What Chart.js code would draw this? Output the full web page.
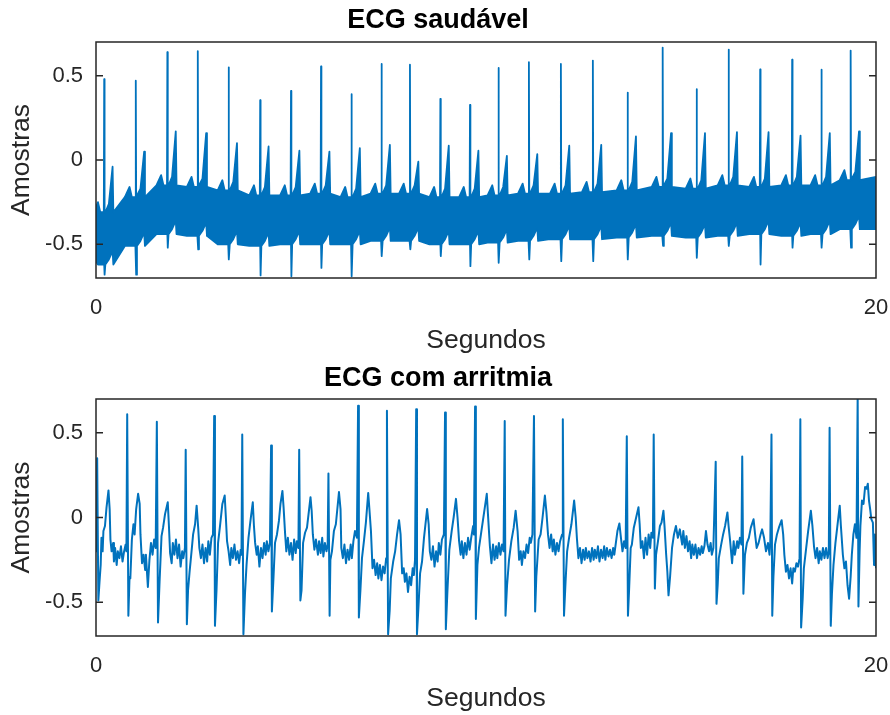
<!DOCTYPE html>
<html>
<head>
<meta charset="utf-8">
<script src="https://cdn.jsdelivr.net/npm/chart.js@4.4.0/dist/chart.umd.min.js"></script>
<style>
  body { margin: 0; background: #fff; }
  #wrap { position: relative; width: 890px; height: 715px; }
  #top-chart { position: absolute; left: 0; top: 0; }
  #bottom-chart { position: absolute; left: 0; top: 357px; }
</style>
</head>
<body>
<div id="wrap">
  <canvas id="top-chart" width="890" height="357"></canvas>
  <canvas id="bottom-chart" width="890" height="358"></canvas>
</div>
<script>
// axes
const xTicks = [0, 20];
const yTicks = [-0.5, 0, 0.5];

// "ECG saudável": one entry per beat
const hBeatTime = [0.21, 1.02, 1.83, 2.61, 3.40, 4.21, 5.00, 5.77, 6.55, 7.32, 8.05, 8.83, 9.59,
  10.32, 11.10, 11.92, 12.74, 13.63, 14.53, 15.40, 16.22, 17.03, 17.85, 18.60, 19.35];
const hRPeak = [0.48, 0.47, 0.64, 0.645, 0.55, 0.355, 0.41, 0.555, 0.39, 0.57, 0.565, 0.363, 0.327,
  0.546, 0.58, 0.57, 0.59, 0.40, 0.667, 0.42, 0.655, 0.537, 0.595, 0.536, 0.649];
const hSTrough = [-0.68, -0.68, -0.52, -0.53, -0.59, -0.685, -0.69, -0.64, -0.69, -0.57, -0.53, -0.57, -0.63,
  -0.61, -0.59, -0.60, -0.60, -0.59, -0.51, -0.58, -0.51, -0.62, -0.52, -0.52, -0.52];
const hTWave = [-0.04, 0.05, 0.17, 0.16, 0.10, 0.08, 0.055, 0.05, 0.07, 0.09, -0.01, 0.085, 0.055,
  0.025, 0.035, 0.085, 0.09, 0.14, 0.16, 0.16, 0.165, 0.165, 0.145, 0.16, 0.17];
// noisy band (upper / lower edge) around each beat
const hBandTop = [-0.31, -0.22, -0.15, -0.16, -0.18, -0.21, -0.21, -0.20, -0.22, -0.20, -0.20, -0.22, -0.22,
  -0.21, -0.20, -0.20, -0.19, -0.18, -0.16, -0.17, -0.15, -0.16, -0.15, -0.15, -0.12];
const hBandBottom = [-0.62, -0.51, -0.44, -0.45, -0.50, -0.51, -0.50, -0.50, -0.50, -0.48, -0.48, -0.50, -0.50,
  -0.49, -0.48, -0.47, -0.47, -0.46, -0.45, -0.46, -0.45, -0.44, -0.45, -0.44, -0.41];
const hStartBand = [-0.28, -0.60];
const hEndBand = [-0.10, -0.41];

// "ECG com arritmia": samples
const arrTime = [
  0.00, 0.01, 0.03, 0.06, 0.09, 0.12, 0.14, 0.17, 0.19, 0.23,
  0.27, 0.32, 0.35, 0.37, 0.40, 0.44, 0.46, 0.49, 0.53, 0.56,
  0.60, 0.64, 0.68, 0.72, 0.76, 0.78, 0.80, 0.83, 0.86, 0.88,
  0.92, 0.96, 0.99, 1.03, 1.08, 1.12, 1.14, 1.18, 1.22, 1.26,
  1.28, 1.33, 1.37, 1.41, 1.45, 1.49, 1.53, 1.56, 1.59, 1.63,
  1.68, 1.72, 1.77, 1.84, 1.87, 1.90, 1.94, 1.97, 2.01, 2.05,
  2.09, 2.13, 2.17, 2.21, 2.24, 2.28, 2.30, 2.33, 2.36, 2.40,
  2.45, 2.49, 2.54, 2.58, 2.62, 2.65, 2.69, 2.73, 2.77, 2.81,
  2.85, 2.88, 2.92, 2.96, 3.00, 3.03, 3.05, 3.09, 3.13, 3.18,
  3.24, 3.30, 3.33, 3.36, 3.40, 3.44, 3.47, 3.51, 3.55, 3.59,
  3.63, 3.67, 3.71, 3.73, 3.75, 3.78, 3.82, 3.86, 3.91, 3.96,
  4.02, 4.05, 4.08, 4.12, 4.15, 4.19, 4.23, 4.27, 4.31, 4.35,
  4.38, 4.42, 4.46, 4.49, 4.51, 4.55, 4.59, 4.64, 4.69, 4.73,
  4.78, 4.81, 4.85, 4.88, 4.92, 4.96, 5.00, 5.04, 5.08, 5.12,
  5.15, 5.19, 5.21, 5.24, 5.27, 5.31, 5.36, 5.41, 5.45, 5.50,
  5.53, 5.56, 5.60, 5.64, 5.69, 5.72, 5.76, 5.80, 5.83, 5.87,
  5.91, 5.94, 5.96, 5.99, 6.01, 6.05, 6.10, 6.15, 6.23, 6.27,
  6.29, 6.33, 6.37, 6.41, 6.45, 6.49, 6.53, 6.56, 6.60, 6.64,
  6.69, 6.72, 6.74, 6.78, 6.82, 6.87, 6.92, 6.98, 7.01, 7.05,
  7.09, 7.13, 7.17, 7.21, 7.24, 7.28, 7.32, 7.36, 7.40, 7.44,
  7.46, 7.49, 7.53, 7.56, 7.62, 7.67, 7.72, 7.77, 7.81, 7.85,
  7.89, 7.92, 7.96, 8.00, 8.04, 8.08, 8.12, 8.15, 8.18, 8.21,
  8.23, 8.27, 8.31, 8.36, 8.41, 8.49, 8.53, 8.56, 8.60, 8.64,
  8.68, 8.72, 8.76, 8.79, 8.83, 8.87, 8.92, 8.95, 8.97, 9.01,
  9.06, 9.12, 9.17, 9.23, 9.27, 9.31, 9.35, 9.38, 9.42, 9.46,
  9.50, 9.54, 9.58, 9.62, 9.67, 9.69, 9.72, 9.74, 9.78, 9.82,
  9.87, 9.92, 10.02, 10.05, 10.10, 10.14, 10.18, 10.22, 10.26, 10.29,
  10.33, 10.37, 10.41, 10.45, 10.48, 10.50, 10.54, 10.59, 10.65, 10.71,
  10.76, 10.81, 10.85, 10.89, 10.92, 10.96, 11.00, 11.04, 11.08, 11.12,
  11.15, 11.19, 11.23, 11.26, 11.29, 11.35, 11.40, 11.45, 11.51, 11.55,
  11.59, 11.63, 11.67, 11.71, 11.74, 11.78, 11.82, 11.86, 11.90, 11.95,
  11.97, 12.00, 12.04, 12.08, 12.13, 12.19, 12.26, 12.30, 12.33, 12.37,
  12.41, 12.45, 12.49, 12.53, 12.56, 12.60, 12.64, 12.68, 12.72, 12.76,
  12.79, 12.83, 12.87, 12.91, 12.95, 12.99, 13.03, 13.06, 13.10, 13.14,
  13.18, 13.22, 13.26, 13.29, 13.33, 13.37, 13.42, 13.46, 13.50, 13.54,
  13.58, 13.61, 13.64, 13.67, 13.71, 13.74, 13.79, 13.85, 13.91, 13.94,
  13.97, 14.01, 14.05, 14.09, 14.13, 14.17, 14.21, 14.24, 14.28, 14.30,
  14.33, 14.36, 14.41, 14.46, 14.50, 14.55, 14.58, 14.62, 14.65, 14.68,
  14.72, 14.77, 14.82, 14.87, 14.92, 14.97, 15.03, 15.06, 15.10, 15.14,
  15.18, 15.22, 15.26, 15.29, 15.33, 15.37, 15.41, 15.45, 15.49, 15.53,
  15.56, 15.60, 15.64, 15.68, 15.72, 15.76, 15.79, 15.83, 15.89, 15.91,
  15.94, 15.97, 16.03, 16.08, 16.13, 16.19, 16.22, 16.26, 16.31, 16.35,
  16.38, 16.44, 16.47, 16.51, 16.55, 16.57, 16.60, 16.64, 16.69, 16.74,
  16.79, 16.86, 16.90, 16.94, 16.99, 17.04, 17.08, 17.13, 17.18, 17.23,
  17.27, 17.29, 17.32, 17.34, 17.37, 17.41, 17.46, 17.51, 17.58, 17.62,
  17.65, 17.69, 17.73, 17.77, 17.81, 17.85, 17.88, 17.92, 17.96, 18.00,
  18.04, 18.06, 18.08, 18.12, 18.15, 18.21, 18.26, 18.33, 18.37, 18.41,
  18.45, 18.49, 18.53, 18.56, 18.60, 18.64, 18.68, 18.72, 18.76, 18.79,
  18.81, 18.84, 18.87, 18.91, 18.96, 19.01, 19.07, 19.10, 19.15, 19.19,
  19.23, 19.27, 19.31, 19.35, 19.38, 19.42, 19.46, 19.50, 19.53, 19.55,
  19.58, 19.60, 19.64, 19.68, 19.72, 19.76, 19.79, 19.82, 19.85, 19.88,
  19.92, 19.95, 19.97, 20.00
];
const arrAmp = [
  -0.13, -0.20, 0.35, -0.49, -0.38, -0.28, -0.12, -0.20, -0.08, -0.05,
  0.06, 0.16, 0.05, -0.13, -0.20, -0.15, -0.26, -0.18, -0.28, -0.20,
  -0.24, -0.17, -0.26, -0.20, -0.16, -0.20, 0.61, -0.58, -0.35, -0.36,
  -0.13, -0.04, -0.10, 0.05, 0.14, 0.08, -0.10, -0.27, -0.22, -0.31,
  -0.22, -0.41, -0.25, -0.15, -0.22, -0.13, -0.18, 0.565, -0.62, -0.38,
  -0.11, -0.06, 0.02, 0.09, -0.05, -0.21, -0.27, -0.15, -0.22, -0.13,
  -0.24, -0.16, -0.29, -0.20, -0.24, -0.18, 0.40, -0.63, -0.43, -0.32,
  -0.20, -0.10, -0.04, 0.07, -0.06, -0.18, -0.24, -0.16, -0.27, -0.18,
  -0.26, -0.14, -0.22, -0.12, -0.10, 0.60, -0.64, -0.43, -0.15, -0.05,
  0.08, 0.13, 0.00, -0.14, -0.20, -0.28, -0.18, -0.24, -0.16, -0.25,
  -0.20, -0.27, -0.19, -0.22, 0.49, -0.69, -0.45, -0.28, -0.12, -0.02,
  0.09, -0.05, -0.15, -0.22, -0.17, -0.29, -0.18, -0.24, -0.15, -0.22,
  -0.14, -0.20, -0.15, 0.425, -0.555, -0.36, -0.15, -0.10, -0.02, 0.08,
  0.157, 0.06, -0.10, -0.20, -0.12, -0.22, -0.15, -0.25, -0.13, -0.21,
  -0.14, -0.18, 0.40, -0.49, -0.43, -0.15, -0.09, -0.06, 0.02, 0.12,
  0.04, -0.10, -0.19, -0.13, -0.22, -0.14, -0.21, -0.12, -0.23, -0.15,
  -0.20, -0.16, 0.26, -0.58, -0.25, -0.20, -0.08, -0.04, 0.15, 0.05,
  -0.18, -0.24, -0.16, -0.27, -0.19, -0.25, -0.16, -0.24, -0.14, -0.08,
  -0.12, 0.66, -0.59, -0.43, -0.24, -0.14, -0.03, 0.145, 0.05, -0.08,
  -0.30, -0.25, -0.34, -0.27, -0.36, -0.28, -0.37, -0.29, -0.33, -0.24,
  0.63, -0.69, -0.55, -0.36, -0.26, -0.20, -0.10, -0.016, -0.10, -0.33,
  -0.30, -0.38, -0.33, -0.44, -0.35, -0.40, -0.30, -0.34, -0.25, 0.64,
  -0.69, -0.52, -0.33, -0.26, -0.12, 0.05, -0.04, -0.20, -0.25, -0.17,
  -0.29, -0.20, -0.26, -0.15, -0.22, -0.13, -0.10, 0.62, -0.66, -0.44,
  -0.19, -0.08, 0.00, 0.11, 0.00, -0.14, -0.22, -0.14, -0.24, -0.15,
  -0.22, -0.12, -0.19, -0.12, -0.05, -0.10, 0.655, -0.60, -0.28, -0.18,
  -0.10, -0.02, 0.14, 0.02, -0.17, -0.27, -0.16, -0.25, -0.17, -0.24,
  -0.15, -0.22, -0.16, -0.20, 0.57, -0.58, -0.40, -0.25, -0.14, -0.06,
  0.04, -0.08, -0.25, -0.20, -0.28, -0.20, -0.24, -0.16, -0.21, -0.12,
  -0.15, -0.10, 0.60, -0.555, -0.35, -0.13, -0.10, 0.00, 0.13, 0.03,
  -0.10, -0.18, -0.10, -0.20, -0.13, -0.22, -0.15, -0.20, -0.14, -0.10,
  0.58, -0.58, -0.38, -0.20, -0.12, -0.04, 0.10, 0.00, -0.12, -0.24,
  -0.18, -0.27, -0.19, -0.25, -0.18, -0.24, -0.20, -0.26, -0.18, -0.25,
  -0.19, -0.24, -0.17, -0.26, -0.19, -0.24, -0.17, -0.25, -0.18, -0.23,
  -0.19, -0.24, -0.18, -0.22, -0.15, -0.08, -0.035, -0.12, -0.20, -0.14,
  -0.18, 0.48, -0.58, -0.42, -0.18, -0.16, -0.06, 0.00, 0.06, -0.04,
  -0.18, -0.14, -0.24, -0.12, -0.22, -0.10, -0.18, -0.09, -0.12, 0.49,
  -0.42, -0.22, -0.14, -0.05, -0.03, 0.04, -0.06, -0.22, -0.32, -0.46,
  -0.35, -0.18, -0.10, -0.05, -0.12, -0.07, -0.16, -0.08, -0.18, -0.11,
  -0.20, -0.14, -0.24, -0.16, -0.22, -0.16, -0.24, -0.18, -0.22, -0.17,
  -0.21, -0.17, -0.08, -0.16, -0.20, -0.15, -0.22, -0.18, 0.33, -0.51,
  -0.40, -0.24, -0.16, -0.10, -0.05, 0.03, -0.05, -0.14, -0.27, -0.14,
  -0.22, -0.14, -0.18, -0.12, -0.16, 0.36, -0.45, -0.22, -0.15, -0.12,
  -0.06, -0.01, -0.10, -0.18, -0.15, -0.10, -0.07, -0.12, -0.20, -0.15,
  -0.22, -0.14, 0.49, -0.58, -0.35, -0.16, -0.10, -0.06, -0.016, -0.10,
  -0.22, -0.32, -0.28, -0.36, -0.30, -0.39, -0.30, -0.32, -0.27, -0.29,
  -0.24, 0.58, -0.65, -0.48, -0.30, -0.18, -0.08, 0.04, -0.05, -0.17,
  -0.24, -0.18, -0.27, -0.20, -0.25, -0.18, -0.24, -0.18, -0.24, -0.20,
  0.53, -0.64, -0.45, -0.28, -0.15, -0.05, 0.07, -0.05, -0.22, -0.30,
  -0.26, -0.40, -0.48, -0.35, -0.22, -0.10, -0.04, -0.12, 0.72, -0.525,
  -0.20, -0.05, 0.10, 0.08, 0.18, 0.17, 0.20, 0.10, 0.05, -0.01,
  -0.03, -0.28, -0.10, -0.30
];

const lineColor = "#0072BD";
const axisColor = "#262626";
const fontFamily = "'Liberation Sans', Arial, sans-serif";

// Upper / lower edge of the healthy trace, one small set of points per beat
function buildHealthyBand() {
  const high = [{ x: 0, y: hStartBand[0] }];
  const low = [{ x: 0, y: hStartBand[1] }];
  hBeatTime.forEach(function (r, i) {
    const top = hBandTop[i];
    const bot = hBandBottom[i];
    const pts = [
      [r - 0.28, top, bot],
      [r - 0.16, top + 0.06, bot],
      [r - 0.10, top, bot],
      [r - 0.01, top, bot],
      [r, hRPeak[i], bot],
      [r + 0.01, top, hSTrough[i]],
      [r + 0.03, top, bot],
      [r + 0.12, top + 0.05, bot + 0.03],
      [r + 0.215, hTWave[i], bot + 0.08],
      [r + 0.235, top, bot],
    ];
    pts.forEach(function (p) {
      if (p[0] <= 0) return;
      high.push({ x: p[0], y: p[1] });
      low.push({ x: p[0], y: p[2] });
    });
  });
  high.push({ x: 20, y: hEndBand[0] });
  low.push({ x: 20, y: hEndBand[1] });
  return { high: high, low: low };
}

// axes box with inward tick marks, like the original figure
const boxPlugin = {
  id: "box",
  afterDatasetsDraw(chart) {
    const ctx = chart.ctx;
    const a = chart.chartArea;
    const y = chart.scales.y;
    ctx.save();
    ctx.strokeStyle = axisColor;
    ctx.lineWidth = 1.5;
    ctx.strokeRect(a.left, a.top, a.right - a.left, a.bottom - a.top);
    y.ticks.forEach(function (t) {
      const py = y.getPixelForValue(t.value);
      ctx.beginPath();
      ctx.moveTo(a.left, py);
      ctx.lineTo(a.left + 7, py);
      ctx.moveTo(a.right, py);
      ctx.lineTo(a.right - 7, py);
      ctx.stroke();
    });
    ctx.restore();
  },
};

function makeChart(canvasId, title, datasets, titlePadding) {
  const tickFont = { family: fontFamily, size: 22 };
  const labelFont = { family: fontFamily, size: 26.5 };
  return new Chart(document.getElementById(canvasId), {
    type: "line",
    data: { datasets: datasets },
    options: {
      responsive: false,
      animation: false,
      events: [],
      layout: { padding: { left: 0, right: 14, top: 0, bottom: 0 } },
      elements: { point: { radius: 0 }, line: { tension: 0 } },
      plugins: {
        legend: { display: false },
        tooltip: { enabled: false },
        title: {
          display: true,
          text: title,
          color: "#000",
          font: { family: fontFamily, size: 27, weight: "bold" },
          padding: titlePadding,
        },
      },
      scales: {
        x: {
          type: "linear",
          min: 0,
          max: 20,
          grid: { display: false, drawTicks: false },
          border: { display: false },
          afterBuildTicks: function (s) {
            s.ticks = xTicks.map(function (v) { return { value: v }; });
          },
          afterFit: function (s) {
            s.height = 79;
            s.paddingLeft = 0;
            s.paddingRight = 0;
          },
          ticks: { color: axisColor, font: tickFont, padding: 17, maxRotation: 0, callback: (v) => String(v) },
          title: { display: true, text: "Segundos", color: axisColor, font: labelFont, padding: { top: 0, bottom: 0 } },
        },
        y: {
          type: "linear",
          min: -0.7,
          max: 0.7,
          grid: { display: false, drawTicks: false },
          border: { display: false },
          afterBuildTicks: function (s) {
            s.ticks = yTicks.map(function (v) { return { value: v }; });
          },
          afterFit: function (s) {
            s.width = 96;
            s.paddingTop = 0;
            s.paddingBottom = 0;
          },
          ticks: { color: axisColor, font: tickFont, padding: 13, callback: (v) => String(v) },
          title: { display: true, text: "Amostras", color: axisColor, font: labelFont, padding: { top: 6, bottom: 0 } },
        },
      },
    },
    plugins: [boxPlugin],
  });
}

const band = buildHealthyBand();
makeChart("top-chart", "ECG saudável", [
  {
    data: band.high,
    borderColor: lineColor,
    backgroundColor: lineColor,
    borderWidth: 1.8,
    borderJoinStyle: "round",
    fill: "+1",
  },
  {
    data: band.low,
    borderColor: lineColor,
    borderWidth: 1.8,
    borderJoinStyle: "round",
    fill: false,
  },
], { top: 4, bottom: 5.6 });

makeChart("bottom-chart", "ECG com arritmia", [
  {
    data: arrTime.map(function (t, i) { return { x: t, y: arrAmp[i] }; }),
    borderColor: lineColor,
    borderWidth: 2,
    borderJoinStyle: "round",
    fill: false,
  },
], { top: 5, bottom: 4.6 });
</script>
</body>
</html>
